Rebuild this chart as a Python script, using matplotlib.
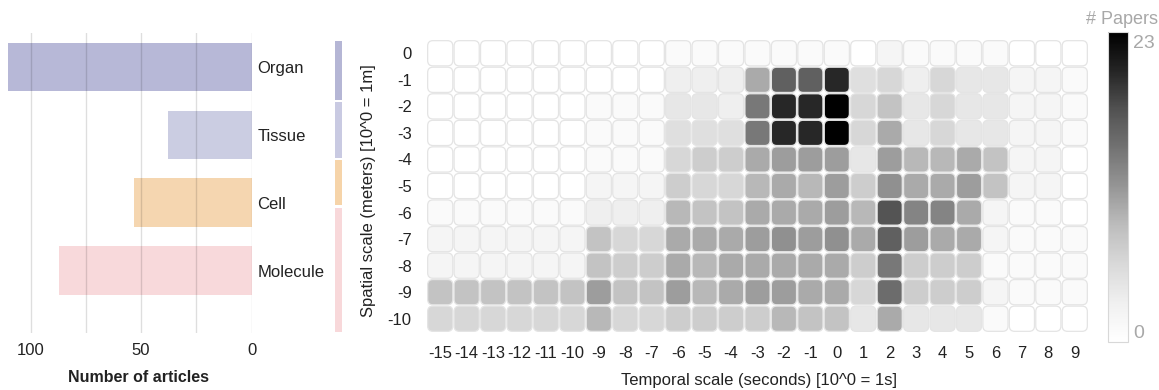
import matplotlib
matplotlib.use("Agg")
import matplotlib.pyplot as plt
from matplotlib.patches import FancyBboxPatch
from matplotlib.colors import Normalize
import matplotlib.cm as cm
import numpy as np

plt.rcParams['font.family'] = ['Liberation Sans', 'DejaVu Sans']

# ---------------- data ----------------
categories = ["Organ", "Tissue", "Cell", "Molecule"]
articles = [110, 38, 53, 87]
cat_colors = ["#b7b8d7", "#cbcde2", "#f5d6b0", "#f8d9db"]
strip_colors = ["#b5b6d5", "#c9cae2", "#f6d4a9", "#f8d8da"]
# spatial extent (exponent) covered by each category strip
strip_edges = [0.5, -1.8, -3.96, -5.75, -10.5]

temporal = list(range(-15, 10))      # columns
spatial = list(range(0, -11, -1))    # rows
papers_max = 23

row_0   = [0, 0, 0, 0, 0, 0, 0, 0, 0, 1, 1, 1, 1, 1, 1, 1, 0, 2, 1, 1, 1, 1, 0, 0, 0]
row_m1  = [0, 0, 0, 0, 0, 0, 0, 0, 0, 3, 3, 3, 10, 16, 16, 20, 5, 6, 3, 6, 4, 4, 2, 2, 1]
row_m2  = [0, 0, 0, 0, 0, 0, 1, 1, 1, 4, 4, 3, 14, 20, 20, 23, 6, 8, 4, 6, 4, 4, 2, 2, 1]
row_m3  = [0, 0, 0, 0, 0, 0, 1, 1, 1, 5, 5, 5, 14, 20, 20, 23, 6, 10, 4, 6, 4, 4, 2, 2, 1]
row_m4  = [0, 0, 0, 0, 0, 0, 1, 1, 1, 6, 7, 7, 10, 11, 11, 11, 4, 11, 9, 9, 10, 8, 2, 2, 0]
row_m5  = [0, 0, 0, 0, 0, 0, 2, 2, 2, 7, 6, 6, 9, 10, 9, 11, 7, 12, 10, 10, 11, 8, 2, 2, 0]
row_m6  = [1, 1, 1, 1, 1, 1, 3, 3, 3, 9, 8, 8, 10, 10, 10, 11, 9, 17, 13, 13, 10, 2, 1, 1, 0]
row_m7  = [2, 2, 2, 2, 2, 2, 8, 6, 6, 10, 10, 10, 11, 12, 11, 12, 10, 16, 11, 10, 10, 2, 1, 1, 1]
row_m8  = [2, 2, 2, 2, 2, 2, 8, 7, 7, 10, 9, 10, 10, 10, 10, 10, 7, 14, 7, 7, 7, 1, 1, 1, 1]
row_m9  = [8, 8, 8, 8, 8, 8, 11, 8, 8, 11, 9, 10, 11, 11, 10, 10, 6, 15, 7, 7, 7, 2, 1, 1, 1]
row_m10 = [6, 6, 6, 6, 6, 6, 9, 6, 6, 7, 7, 7, 7, 9, 8, 8, 4, 10, 4, 4, 4, 1, 0, 0, 0]
papers = [row_0, row_m1, row_m2, row_m3, row_m4, row_m5,
          row_m6, row_m7, row_m8, row_m9, row_m10]

# ---------------- figure ----------------
W, H = 1159, 390
fig = plt.figure(figsize=(W / 100, H / 100), dpi=100)


def ax_px(x0, y0, x1, y1):
    return [x0 / W, 1 - y1 / H, (x1 - x0) / W, (y1 - y0) / H]


TXT = "#222222"
GREY_TXT = "#a8a8a8"

# ---- bar chart (left) ----
axb = fig.add_axes(ax_px(0, 33, 251.7, 333))
yy = np.arange(len(categories))
axb.barh(yy, articles, height=0.715, color=cat_colors, zorder=1)
axb.set_xlim(113.8, 0)
axb.set_ylim(3.92, -0.5)
axb.set_xticks([0, 50, 100])
axb.set_xticks([25, 75], minor=True)
axb.set_axisbelow(False)
axb.grid(axis='x', which='both', color='black', alpha=0.13, lw=1)
axb.yaxis.tick_right()
axb.set_yticks(yy, categories)
axb.tick_params(axis='y', length=0, pad=4, labelsize=12, labelcolor=TXT)
axb.tick_params(axis='x', which='both', length=0, pad=7, labelsize=12, labelcolor=TXT)
for s in axb.spines.values():
    s.set_visible(False)
fig.text(139 / W, 1 - 378 / H, "Number of articles", ha='center', va='center',
         fontsize=11.5, fontweight='bold', color=TXT)

# ---- category strip ----
axs = fig.add_axes(ax_px(335, 40, 342, 333))
axs.set_ylim(-10.5, 0.5)
axs.set_xlim(0, 1)
for i, c in enumerate(strip_colors):
    axs.axhspan(strip_edges[i + 1] + 0.04, strip_edges[i] - 0.04, color=c, lw=0)
axs.axis('off')

# ---- heatmap ----
axh = fig.add_axes(ax_px(427, 40, 1088, 332))
cmap = plt.get_cmap('Greys')
norm = Normalize(0, papers_max)
m = 0.025
for r, sy in enumerate(spatial):
    for c, tx in enumerate(temporal):
        v = papers[r][c]
        p = FancyBboxPatch((tx - 0.5 + m, sy - 0.5 + m), 1 - 2 * m, 1 - 2 * m,
                           boxstyle="round,pad=0,rounding_size=0.2",
                           facecolor=cmap(norm(v)), edgecolor="#e4e4e4", lw=0.9)
        axh.add_patch(p)
axh.set_xlim(temporal[0] - 0.5, temporal[-1] + 0.5)
axh.set_ylim(spatial[-1] - 0.5, spatial[0] + 0.5)
axh.set_xticks(temporal, [str(t) for t in temporal])
axh.set_yticks(spatial, [str(s) for s in spatial])
axh.tick_params(axis='x', length=0, pad=10, labelsize=12, labelcolor=TXT)
axh.tick_params(axis='y', length=0, pad=11, labelsize=12, labelcolor=TXT)
for s in axh.spines.values():
    s.set_visible(False)
fig.text(759 / W, 1 - 381 / H, "Temporal scale (seconds) [10^0 = 1s]",
         ha='center', va='center', fontsize=12, color=TXT)
fig.text(369 / W, 1 - 191 / H, "Spatial scale (meters) [10^0 = 1m]",
         ha='center', va='center', rotation=90, fontsize=12, color=TXT)

# ---- colorbar ----
cax = fig.add_axes(ax_px(1108, 32, 1128, 342))
cb = fig.colorbar(cm.ScalarMappable(norm=norm, cmap=cmap), cax=cax)
cb.outline.set_edgecolor("#d8d8d8")
cb.outline.set_linewidth(0.8)
cb.set_ticks([])
cax.text(1.25, 0.99, str(papers_max), transform=cax.transAxes, ha='left', va='top',
         fontsize=14, color=GREY_TXT)
cax.text(1.25, 0.0, "0", transform=cax.transAxes, ha='left', va='bottom',
         fontsize=14, color=GREY_TXT)
fig.text(1158 / W, 1 - 20 / H, "# Papers", ha='right', va='center',
         fontsize=13, color=GREY_TXT)

fig.savefig("out.png", dpi=100)
